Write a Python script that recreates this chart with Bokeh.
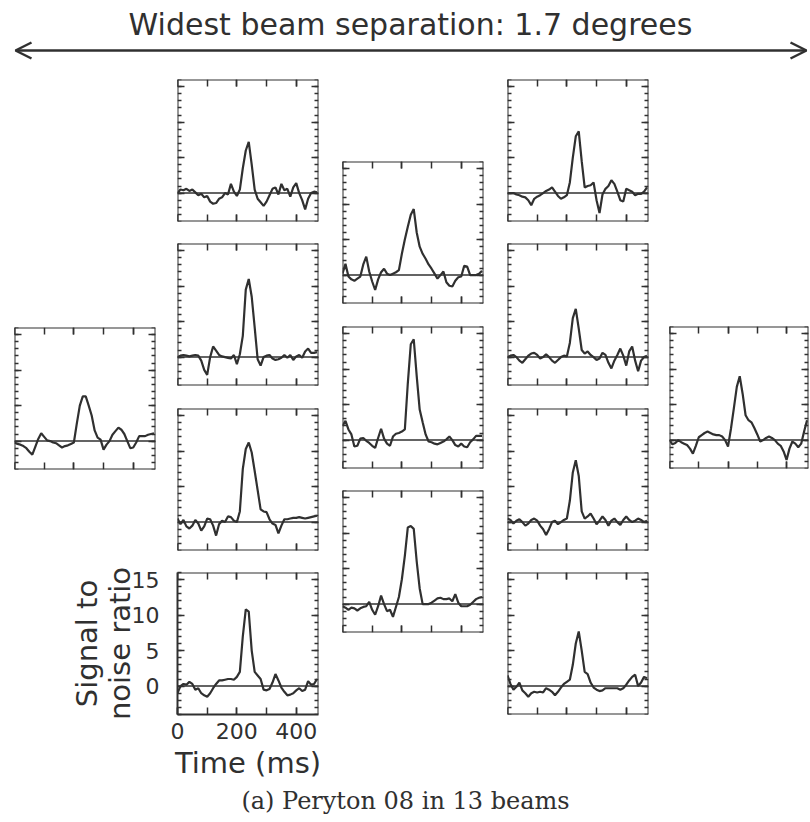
from bokeh.plotting import figure
from bokeh.models import (LinearAxis, SingleIntervalTicker, FixedTicker, Range1d, Span,
                          Spacer, Arrow, OpenHead, Label)
from bokeh.layouts import row, column
from bokeh.embed import file_html
from bokeh.resources import INLINE

# ---------------- data ----------------
title_text = "Widest beam separation: 1.7 degrees"
caption_text = "(a) Peryton 08 in 13 beams"
x_label = "Time (ms)"
y_label_outer = "Signal to"
y_label_inner = "noise ratio"

time_ms = list(range(0, 480, 10))          # 48 samples, 10 ms apart

beam_left = [-0.2, -0.4, -0.5, -0.7, -1.0, -1.5, -1.9, -0.8, 0.3, 1.1,
             0.6, 0.1, 0.0, -0.2, -0.3, -0.6, -0.9, -0.7, -0.6, -0.4,
             -0.2, 2.5, 5.0, 6.3, 6.3, 5.0, 3.6, 1.5, 0.5, 0.2,
             -1.2, -0.5, 0.0, 0.9, 1.4, 1.9, 1.6, 1.0, 0.0, -1.0,
             -0.9, -0.2, 0.7, 0.7, 0.7, 0.9, 1.0, 1.1]

beam_c2_1 = [0.0, 0.5, 0.4, 0.6, 0.3, 0.5, 0.1, -0.3, -0.1, -0.6,
             -0.4, -1.2, -1.5, -1.4, -0.8, -0.6, 0.0, -0.2, 1.3, 0.2,
             -0.4, 0.5, 3.5, 6.0, 7.2, 4.0, 0.5, -0.8, -1.3, -1.8,
             -1.2, -0.3, 0.6, 0.8, -0.2, 1.3, 0.4, 0.6, -0.5, 0.8,
             1.4, 0.0, -1.0, -2.3, -0.8, 0.0, 0.2, 0.1]

beam_c2_2 = [0.0, 0.2, 0.3, 0.2, 0.1, 0.2, 0.3, 0.2, -0.5, -1.8,
             -2.5, 0.0, 1.5, 0.9, 0.3, 0.1, 0.0, -0.1, -0.2, 0.3,
             -1.0, 0.4, 3.0, 9.5, 11.0, 8.5, 4.2, -0.3, -1.2, 0.0,
             0.2, 0.3, -0.2, -0.4, -0.3, -0.1, 0.3, -0.1, 0.3, -0.4,
             0.1, 0.3, -0.1, 0.8, 1.2, 0.6, 0.6, 0.7]

beam_c2_3 = [0.5, -0.3, 0.3, -0.6, -0.9, -0.5, 0.3, -0.2, -1.2, -0.6,
             0.5, 0.4, -0.5, -1.9, -0.3, 0.2, 0.0, 0.8, 0.7, 0.2,
             0.0, 1.5, 7.5, 10.3, 11.2, 9.8, 7.2, 4.5, 1.8, 1.5,
             1.4, 0.4, -0.2, -0.4, -1.6, -0.5, 0.4, 0.4, 0.5, 0.6,
             0.6, 0.7, 0.6, 0.5, 0.6, 0.7, 0.8, 0.9]

beam_c2_4 = [-1.0, 0.0, 0.3, 0.2, 0.6, 0.3, -0.5, -0.3, -1.0, -1.3,
             -1.5, -1.0, -0.3, 0.3, 0.8, 0.8, 0.9, 1.0, 1.0, 0.9,
             1.3, 2.0, 7.0, 10.8, 10.5, 5.0, 2.0, 1.5, 1.0, -0.5,
             -0.6, -0.4, 0.5, 1.7, 0.8, -0.2, -0.8, -1.3, -1.2, -1.0,
             -0.6, -0.3, -0.7, -0.5, 0.7, 0.2, 0.3, 1.0]

beam_c3_1 = [0.2, 1.6, -0.2, -0.6, -0.8, -0.5, -0.2, 1.5, 2.6, 0.5,
             -0.9, -2.1, -0.6, 0.4, 0.9, 0.2, 0.0, 0.2, 0.4, 0.7,
             3.0, 5.0, 6.8, 8.5, 9.3, 6.0, 4.0, 3.0, 2.3, 1.5,
             0.9, 0.2, -0.5, 0.0, 0.5, -1.0, -1.5, -1.6, -0.8, -0.3,
             -0.2, 1.3, 1.2, 0.0, 0.0, 0.0, 0.2, 0.6]

beam_c3_2 = [2.0, 2.7, 1.5, 0.8, -0.9, -0.8, 0.2, 0.3, -0.1, -0.4,
             -0.8, -1.1, 0.3, 1.6, 0.2, -0.5, -0.8, 0.5, 0.9, 1.0,
             1.2, 1.5, 8.0, 13.5, 14.2, 9.0, 4.3, 2.5, 0.8, -0.2,
             -0.3, -0.5, -0.6, -0.4, -0.2, 0.1, 0.5, 0.0, -0.7, -0.9,
             -0.5, -0.9, -1.0, -0.3, 0.1, 0.6, 0.6, 0.6]

beam_c3_3 = [-0.3, -0.5, -0.8, -0.5, -0.6, -0.9, -0.6, -0.4, -0.3, 0.3,
             -0.8, -1.5, -0.3, 1.2, 0.0, -1.0, -0.8, -1.8, -0.4, 1.0,
             3.5, 6.8, 10.8, 11.0, 10.6, 6.0, 2.2, 0.0, 0.0, 0.0,
             0.2, 0.5, 0.8, 0.9, 0.7, 0.7, 0.8, 0.4, 1.4, 0.2,
             -0.3, -0.3, -0.3, -0.1, 0.3, 0.7, 0.9, 1.0]

beam_c4_1 = [0.0, 0.0, 0.0, -0.2, -0.3, -0.5, -0.6, -1.0, -1.7, -0.8,
             -0.5, -0.3, 0.0, 0.3, 0.5, 0.8, 0.2, -0.4, -0.8, -0.6,
             -0.3, 1.5, 5.0, 8.0, 8.7, 4.5, 0.8, 1.0, 1.1, 1.5,
             -1.0, -2.8, -0.2, 0.6, 1.0, 1.8, 1.3, 0.2, -1.0, -1.2,
             0.6, 0.4, 0.2, -0.3, -0.1, -0.1, 0.2, 0.8]

beam_c4_2 = [0.0, 0.2, 0.3, 0.0, -0.5, -0.8, -0.3, 0.2, 0.5, 0.6,
             0.3, -0.2, 0.0, 0.4, 0.0, -0.5, -0.8, -0.4, 0.0, 0.2,
             0.1, 2.0, 5.5, 6.8, 4.0, 1.0, 0.5, 0.8, 0.3, 0.0,
             -0.4, -0.2, 0.6, 0.3, -0.8, -1.6, -0.5, 0.3, 1.2, 0.2,
             -1.2, 0.8, 1.5, -0.5, -2.0, -0.5, 0.0, 0.2]

beam_c4_3 = [0.5, 0.3, -0.2, 0.2, 0.4, 0.0, -0.5, -0.2, 0.3, 0.5,
             0.2, -0.5, -1.0, -1.8, -1.0, 0.0, 0.2, -0.3, 0.0, 0.3,
             0.5, 3.0, 7.0, 8.7, 6.5, 1.5, 0.5, 0.8, 1.2, 0.5,
             -0.3, 0.2, 0.8, 0.3, -0.5, 0.2, 0.5, 0.0, -0.4, 0.3,
             0.8, 0.3, 0.0, 0.2, 0.5, 0.3, 0.0, 0.2]

beam_c4_4 = [1.5, 0.3, -0.5, -0.1, 0.5, -0.6, -1.0, -1.5, -1.0, -0.8,
             -0.9, -0.8, -0.9, -0.3, -0.5, -0.8, -1.3, -0.8, -0.2, 0.3,
             0.6, 0.9, 3.0, 6.0, 7.7, 5.0, 2.0, 1.7, 0.5, -0.2,
             -0.5, -0.7, -0.6, -0.3, -0.3, -0.3, -0.3, -0.3, -0.5, -0.3,
             0.2, 0.8, 1.3, 1.6, 0.0, 0.5, 1.3, 1.1]

beam_right = [0.0, -0.6, -0.4, 0.0, -0.3, -0.5, -0.7, -1.2, -1.9, -0.8,
              0.4, 0.7, 1.0, 1.2, 1.0, 0.8, 0.7, 0.7, 0.5, 0.0,
              -0.9, 1.6, 4.5, 7.5, 9.0, 6.5, 3.5, 2.8, 2.5, 1.7,
              0.8, -0.2, 0.0, 0.3, 0.5, 0.3, 0.0, -0.5, -0.8, -1.6,
              -2.8, -1.2, -0.2, -0.5, -1.0, -0.5, 1.2, 2.8]

# ---------------- style ----------------
INK = "#303030"
FONT = "DejaVu Sans"
X_RANGE = (0, 475)
Y_RANGE = (-4, 16)


def style_ticks(ax, dim):
    ax.axis_line_color = INK
    ax.axis_line_width = 2
    ax.major_tick_line_color = INK
    ax.minor_tick_line_color = INK
    ax.major_tick_line_width = 1.5
    ax.minor_tick_line_width = 1.5
    ax.major_tick_out = 0
    ax.minor_tick_out = 0
    ax.major_tick_in = 7
    ax.minor_tick_in = 7 if dim == "x" else 4


def panel(vals, fw=141, fh=142, labelled=False, b_right=3):
    p = figure(frame_width=fw, frame_height=fh,
               x_range=Range1d(*X_RANGE), y_range=Range1d(*Y_RANGE),
               x_axis_location=None, y_axis_location=None,
               toolbar_location=None, output_backend="svg",
               min_border_left=177 if labelled else 3,
               min_border_right=b_right,
               min_border_top=12 if labelled else 3,
               min_border_bottom=74 if labelled else 3,
               outline_line_color=None, border_fill_color="white",
               background_fill_color="white")
    for g in p.grid:
        g.visible = False

    specs = [("below", "x", Y_RANGE[0]), ("above", "x", Y_RANGE[1]),
             ("left", "y", X_RANGE[0]), ("right", "y", X_RANGE[1])]
    for side, dim, loc in specs:
        if dim == "x":
            tk = SingleIntervalTicker(interval=200, num_minor_ticks=2)
        else:
            tk = SingleIntervalTicker(interval=5, num_minor_ticks=5)
        ax = LinearAxis(ticker=tk)
        style_ticks(ax, dim)
        if labelled and side in ("below", "left"):
            ax.major_label_text_font = FONT
            ax.major_label_text_font_size = "22px"
            ax.major_label_text_color = INK
            ax.axis_label_text_font = FONT
            ax.axis_label_text_font_size = "29px"
            ax.axis_label_text_font_style = "normal"
            ax.axis_label_text_color = INK
            if side == "left":
                ax.axis_label = y_label_inner
                ax.major_label_standoff = 18
                ax.axis_label_standoff = -8
            else:
                ax.axis_label = x_label
                ax.major_label_standoff = 8
                ax.axis_label_standoff = 4
        else:
            ax.fixed_location = loc
            ax.major_label_text_color = None
        p.add_layout(ax, side)

    if labelled:
        outer = LinearAxis(ticker=FixedTicker(ticks=[]), axis_label=y_label_outer,
                           axis_line_color=None, major_tick_line_color=None,
                           minor_tick_line_color=None, major_label_text_color=None,
                           axis_label_text_font=FONT, axis_label_text_font_size="29px",
                           axis_label_text_font_style="normal",
                           axis_label_text_color=INK, axis_label_standoff=-4,
                           major_label_standoff=0)
        p.add_layout(outer, "left")

    p.add_layout(Span(location=0, dimension="width", line_color=INK, line_width=1.5))
    p.line(time_ms, vals, line_color=INK, line_width=2.2)
    return p


# header with title and arrow
head = figure(width=810, height=68, x_range=Range1d(0, 810), y_range=Range1d(0, 68),
              x_axis_location=None, y_axis_location=None, toolbar_location=None,
              output_backend="svg", min_border=0, outline_line_color=None)
for g in head.grid:
    g.visible = False
head.add_layout(Label(x=410, y=44, text=title_text, text_align="center",
                      text_baseline="middle", text_font=FONT,
                      text_font_size="30px", text_color=INK))
head.add_layout(Arrow(start=OpenHead(size=16, line_width=2.5, line_color=INK),
                      end=OpenHead(size=16, line_width=2.5, line_color=INK),
                      x_start=15, y_start=18, x_end=806, y_end=18,
                      line_width=2.5, line_color=INK))

# caption
cap = figure(width=810, height=32, x_range=Range1d(0, 810), y_range=Range1d(0, 32),
             x_axis_location=None, y_axis_location=None, toolbar_location=None,
             output_backend="svg", min_border=0, outline_line_color=None)
for g in cap.grid:
    g.visible = False
cap.add_layout(Label(x=405, y=20, text=caption_text, text_align="center",
                     text_baseline="middle", text_font="DejaVu Serif",
                     text_font_size="24px", text_color=INK))

# panels
pD = panel(beam_left)
pB = panel(beam_c2_1)
pF = panel(beam_c2_2)
pJ = panel(beam_c2_3)
pA = panel(beam_c2_4, labelled=True)
pC = panel(beam_c3_1)
pH = panel(beam_c3_2)
pI = panel(beam_c3_3)
pG = panel(beam_c4_1)
pL = panel(beam_c4_2)
pM = panel(beam_c4_3)
pK = panel(beam_c4_4)
pE = panel(beam_right, fw=139, b_right=2)

colD = column(Spacer(width=147, height=256), pD)
colB = column(Spacer(width=147, height=8), pB, Spacer(width=147, height=16), pF,
              Spacer(width=147, height=17), pJ)
top1 = row(Spacer(width=11, height=10), colD, Spacer(width=16, height=10), colB)
group1 = column(top1, Spacer(width=321, height=7), pA)

col3 = column(Spacer(width=147, height=90), pC, Spacer(width=147, height=17), pH,
              Spacer(width=147, height=16), pI)
col4 = column(Spacer(width=147, height=8), pG, Spacer(width=147, height=16), pL,
              Spacer(width=147, height=17), pM, Spacer(width=147, height=16), pK)
col5 = column(Spacer(width=144, height=255), pE)

body = row(group1, Spacer(width=18, height=10), col3, Spacer(width=18, height=10), col4,
           Spacer(width=15, height=10), col5)

page = column(head, body, cap)

open("out.html", "w").write(file_html(page, INLINE))
